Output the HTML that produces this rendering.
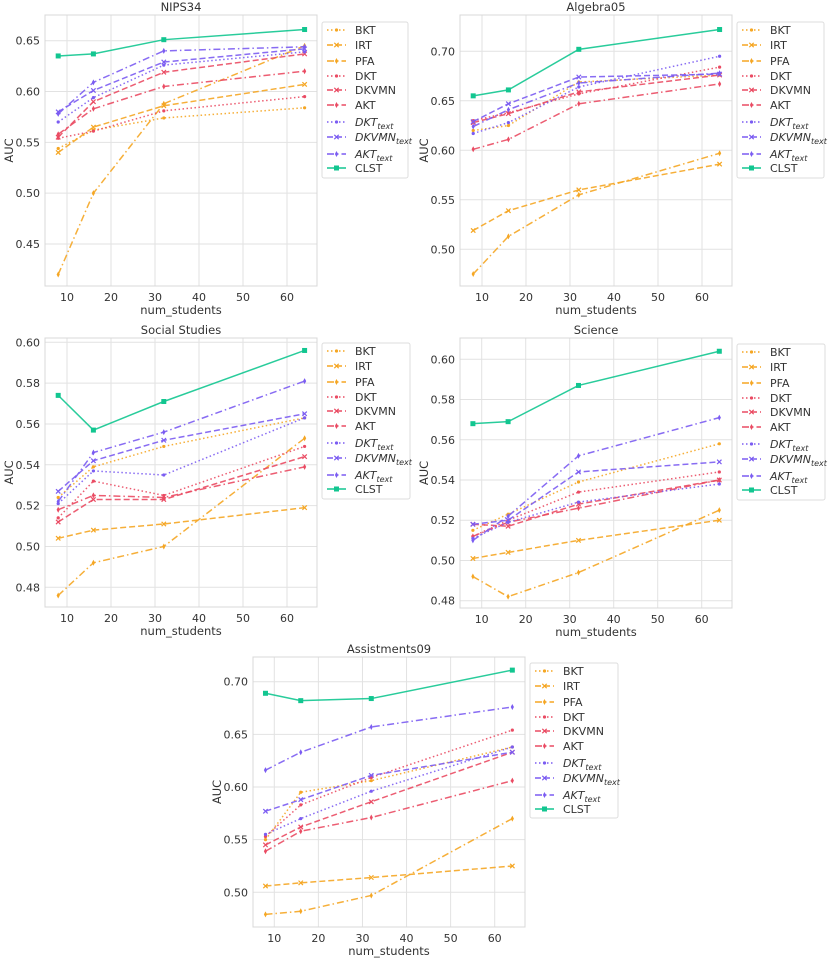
<!DOCTYPE html>
<html><head><meta charset="utf-8">
<style>
body{margin:0;background:#fff;}
svg{display:block;font-family:"DejaVu Sans","Liberation Sans",sans-serif;}
</style></head>
<body>
<svg id="fig" width="830" height="961" viewBox="0 0 830 961" xmlns="http://www.w3.org/2000/svg"></svg>
<script>
const xs = [8, 16, 32, 64];
const seriesNames = ["BKT","IRT","PFA","DKT","DKVMN","AKT","DKT_text","DKVMN_text","AKT_text","CLST"];
// values per dataset, same order as seriesNames
const nipsBKT=[0.544,0.562,0.574,0.584], nipsIRT=[0.540,0.565,0.586,0.607], nipsPFA=[0.420,0.500,0.588,0.645];
const nipsDKT=[0.554,0.561,0.581,0.595], nipsDKVMN=[0.555,0.590,0.619,0.637], nipsAKT=[0.558,0.583,0.605,0.620];
const nipsDKTt=[0.570,0.594,0.626,0.639], nipsDKVMNt=[0.580,0.601,0.629,0.642], nipsAKTt=[0.578,0.609,0.640,0.644], nipsCLST=[0.635,0.637,0.651,0.661];

const algBKT=[0.620,0.625,0.669,0.676], algIRT=[0.519,0.539,0.560,0.586], algPFA=[0.475,0.513,0.555,0.597];
const algDKT=[0.630,0.638,0.657,0.684], algDKVMN=[0.628,0.637,0.659,0.676], algAKT=[0.601,0.611,0.647,0.667];
const algDKTt=[0.617,0.628,0.664,0.695], algDKVMNt=[0.629,0.647,0.674,0.677], algAKTt=[0.624,0.641,0.668,0.678], algCLST=[0.655,0.661,0.702,0.722];

const ssBKT=[0.524,0.539,0.549,0.563], ssIRT=[0.504,0.508,0.511,0.519], ssPFA=[0.476,0.492,0.500,0.553];
const ssDKT=[0.514,0.532,0.525,0.549], ssDKVMN=[0.512,0.523,0.523,0.544], ssAKT=[0.518,0.525,0.524,0.539];
const ssDKTt=[0.521,0.537,0.535,0.563], ssDKVMNt=[0.527,0.542,0.552,0.565], ssAKTt=[0.522,0.546,0.556,0.581], ssCLST=[0.574,0.557,0.571,0.596];

const sciBKT=[0.515,0.523,0.539,0.558], sciIRT=[0.501,0.504,0.510,0.520], sciPFA=[0.492,0.482,0.494,0.525];
const sciDKT=[0.512,0.520,0.534,0.544], sciDKVMN=[0.518,0.517,0.528,0.540], sciAKT=[0.512,0.519,0.526,0.540];
const sciDKTt=[0.511,0.519,0.529,0.538], sciDKVMNt=[0.518,0.520,0.544,0.549], sciAKTt=[0.510,0.522,0.552,0.571], sciCLST=[0.568,0.569,0.587,0.604];

const asBKT=[0.550,0.595,0.606,0.638], asIRT=[0.506,0.509,0.514,0.525], asPFA=[0.479,0.482,0.497,0.570];
const asDKT=[0.553,0.583,0.609,0.654], asDKVMN=[0.545,0.562,0.586,0.633], asAKT=[0.539,0.558,0.571,0.606];
const asDKTt=[0.555,0.570,0.596,0.638], asDKVMNt=[0.577,0.588,0.611,0.633], asAKTt=[0.616,0.633,0.657,0.676], asCLST=[0.689,0.682,0.684,0.711];

const xTicks=[10,20,30,40,50,60];
const nipsTicks=[0.45,0.50,0.55,0.60,0.65];
const algTicks=[0.50,0.55,0.60,0.65,0.70];
const ssTicks=[0.48,0.50,0.52,0.54,0.56,0.58,0.60];
const sciTicks=[0.48,0.50,0.52,0.54,0.56,0.58,0.60];
const asTicks=[0.50,0.55,0.60,0.65,0.70];

const OR="#f5a623", RD="#ea4b63", PU="#7b5cf2", GR="#12c690";
const styles=[
 {c:OR,d:"1.5,2.5",m:"dot"},{c:OR,d:"6,3",m:"x"},{c:OR,d:"7,3,1.5,3",m:"plus"},
 {c:RD,d:"1.5,2.5",m:"dot"},{c:RD,d:"6,3",m:"x"},{c:RD,d:"7,3,1.5,3",m:"plus"},
 {c:PU,d:"1.5,2.5",m:"dot"},{c:PU,d:"6,3",m:"x"},{c:PU,d:"7,3,1.5,3",m:"plus"},
 {c:GR,d:"",m:"sq"}];

const panels=[
 {id:"nips34",title:"NIPS34",L:45,R:317,T:15,B:286,x10:67,x60:287,yA:0.65,pA:40.7,yB:0.45,pB:244,ticks:nipsTicks,fmt:2,
  data:[nipsBKT,nipsIRT,nipsPFA,nipsDKT,nipsDKVMN,nipsAKT,nipsDKTt,nipsDKVMNt,nipsAKTt,nipsCLST],leg:[322,22,86,156]},
 {id:"algebra05",title:"Algebra05",L:460,R:732,T:15,B:286,x10:482,x60:702,yA:0.70,pA:51.3,yB:0.50,pB:249.3,ticks:algTicks,fmt:2,
  data:[algBKT,algIRT,algPFA,algDKT,algDKVMN,algAKT,algDKTt,algDKVMNt,algAKTt,algCLST],leg:[737,22,87,156]},
 {id:"social-studies",title:"Social Studies",L:45,R:317,T:338,B:607,x10:67,x60:287,yA:0.60,pA:342.3,yB:0.48,pB:587.3,ticks:ssTicks,fmt:2,
  data:[ssBKT,ssIRT,ssPFA,ssDKT,ssDKVMN,ssAKT,ssDKTt,ssDKVMNt,ssAKTt,ssCLST],leg:[322,343,88,156]},
 {id:"science",title:"Science",L:460,R:732,T:338,B:608,x10:481.7,x60:701.7,yA:0.60,pA:359.3,yB:0.48,pB:600.7,ticks:sciTicks,fmt:2,
  data:[sciBKT,sciIRT,sciPFA,sciDKT,sciDKVMN,sciAKT,sciDKTt,sciDKVMNt,sciAKTt,sciCLST],leg:[737,344,88,156]},
 {id:"assistments09",title:"Assistments09",L:253,R:525,T:657,B:927,x10:274.3,x60:494.7,yA:0.70,pA:681.7,yB:0.50,pB:892.3,ticks:asTicks,fmt:2,
  data:[asBKT,asIRT,asPFA,asDKT,asDKVMN,asAKT,asDKTt,asDKVMNt,asAKTt,asCLST],leg:[530,663,88,155]}
];

const NS="http://www.w3.org/2000/svg";
const fig=document.getElementById('fig');
function mk(tag,attrs,parent){const e=document.createElementNS(NS,tag);for(const k in attrs)e.setAttribute(k,attrs[k]);(parent||fig).appendChild(e);return e;}

function marker(g,m,x,y,c){
  let e;
  if(m==="dot"){e=mk('circle',{cx:x,cy:y,r:1.6,fill:c},g);}
  else if(m==="x"){e=mk('path',{d:`M${x-2.2},${y-2.2}L${x+2.2},${y+2.2}M${x-2.2},${y+2.2}L${x+2.2},${y-2.2}`,stroke:c,'stroke-width':1.2,fill:'none'},g);}
  else if(m==="plus"){e=mk('path',{d:`M${x},${y-3}L${x+1.6},${y}L${x},${y+3}L${x-1.6},${y}Z`,fill:c},g);}
  else {e=mk('rect',{x:x-2.5,y:y-2.5,width:5,height:5,fill:c},g);}
  return e;
}

panels.forEach(p=>{
  const sx=v=>p.x10+(v-10)*(p.x60-p.x10)/50;
  const sy=v=>p.pA+(v-p.yA)*(p.pB-p.pA)/(p.yB-p.yA);
  const g=mk('g',{});
  
  
  const grid=mk('g',{},g);
  
  
  xTicks.forEach(t=>{
    mk('line',{x1:sx(t),x2:sx(t),y1:p.T,y2:p.B,stroke:'#e2e2e2','stroke-width':1},grid);
    const tl=mk('text',{x:sx(t),y:p.B+15,'text-anchor':'middle','font-size':11,fill:'#333'},g);
    tl.textContent=t;
    
    
  });
  p.ticks.forEach(t=>{
    mk('line',{x1:p.L,x2:p.R,y1:sy(t),y2:sy(t),stroke:'#e2e2e2','stroke-width':1},grid);
    const tl=mk('text',{x:p.L-5,y:sy(t)+4,'text-anchor':'end','font-size':11,fill:'#333'},g);
    tl.textContent=t.toFixed(p.fmt);
    
    
  });
  const fr=mk('rect',{x:p.L,y:p.T,width:p.R-p.L,height:p.B-p.T,fill:'none',stroke:'#d8d8d8','stroke-width':1},g);
  
  
  const tt=mk('text',{x:(p.L+p.R)/2,y:p.T-4,'text-anchor':'middle','font-size':11.5,fill:'#333'},g);
  tt.textContent=p.title;
  
  
  const xl=mk('text',{x:(p.L+p.R)/2,y:p.B+28,'text-anchor':'middle','font-size':11.5,fill:'#333'},g);
  xl.textContent='num_students';
  
  
  const yc=(p.T+p.B)/2, yx=p.L-32;
  const yl=mk('text',{x:yx,y:yc,'text-anchor':'middle','font-size':11.5,fill:'#333',transform:`rotate(-90 ${yx} ${yc})`},g);
  yl.textContent='AUC';
  
  
  p.data.forEach((vals,i)=>{
    const st=styles[i];
    const sg=mk('g',{},g);
    
    
    const pts=vals.map((v,k)=>sx(xs[k])+','+sy(v)).join(' ');
    const pl=mk('polyline',{points:pts,fill:'none',stroke:st.c,'stroke-width':1.5,'stroke-dasharray':st.d,opacity:0.9},sg);
    
    
    vals.forEach((v,k)=>{
      const mm=marker(sg,st.m,sx(xs[k]),sy(v),st.c);
      
      
    });
  });
  // legend
  const [lx,ly,lw,lh]=p.leg;
  const lg=mk('g',{},g);
  
  
  mk('rect',{x:lx,y:ly,width:lw,height:lh,rx:2,fill:'#fff',stroke:'#ddd','stroke-width':1},lg);
  const offs=[8,23,39,54,68,83,100,115,132,146];
  seriesNames.forEach((n,i)=>{
    const st=styles[i];
    const yy=ly+offs[i];
    const e=mk('g',{},lg);
    
    
    mk('line',{x1:lx+5,x2:lx+24,y1:yy,y2:yy,stroke:st.c,'stroke-width':1.5,'stroke-dasharray':st.d},e);
    marker(e,st.m,lx+14.5,yy,st.c);
    const t=mk('text',{x:lx+33,y:yy+4,'font-size':11,fill:'#333'},e);
    if(n.endsWith('_text')){
      t.setAttribute('font-style','italic');
      t.textContent=n.replace('_text','');
      const s=mk('tspan',{'font-size':8,dy:3},t);
      s.textContent='text';
    } else t.textContent=n;
  });
});
</script>
</body></html>
